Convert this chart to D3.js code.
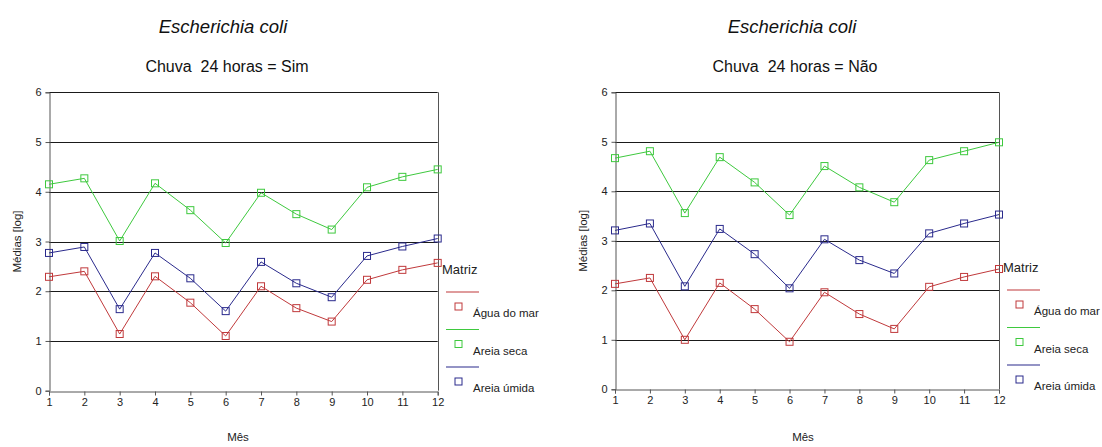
<!DOCTYPE html>
<html><head><meta charset="utf-8">
<script src="https://cdn.jsdelivr.net/npm/d3@7"></script>
<style>body{margin:0;background:#fff}svg{display:block}text{font-family:"Liberation Sans",Arial,sans-serif;white-space:pre}</style>
</head><body><svg id="c" width="1102" height="447"></svg>
<script>
const months = [1,2,3,4,5,6,7,8,9,10,11,12];
const yTicks = [0,1,2,3,4,5,6];
const seriesNames = ["Água do mar","Areia seca","Areia úmida"];
const seriesColors = ["#c0393b","#3ec93e","#2a2a8c"];
const panelTitles = ["Chuva  24 horas = Sim","Chuva  24 horas = Não"];
// Left panel (Sim)
const simAgua  = [2.29,2.40,1.14,2.30,1.77,1.10,2.10,1.66,1.39,2.23,2.43,2.57];
const simSeca  = [4.15,4.27,3.01,4.17,3.63,2.97,3.98,3.55,3.24,4.09,4.30,4.45];
const simUmida = [2.77,2.89,1.64,2.77,2.26,1.60,2.59,2.16,1.88,2.71,2.90,3.06];
// Right panel (Não)
const naoAgua  = [2.13,2.25,1.00,2.15,1.62,0.96,1.96,1.52,1.22,2.07,2.27,2.43];
const naoSeca  = [4.67,4.81,3.56,4.69,4.18,3.52,4.51,4.08,3.78,4.63,4.81,4.99];
const naoUmida = [3.21,3.35,2.08,3.24,2.73,2.04,3.03,2.61,2.34,3.15,3.35,3.53];

const svg = d3.select("#c");

function panel(cfg, data, title){
  const g = svg.append("g");
  const x = d3.scaleLinear().domain([1,12]).range([cfg.x0, cfg.x1]);
  const y = d3.scaleLinear().domain([0,6]).range([cfg.y0, cfg.y6]);
  // titles
  g.append("text").attr("x", cfg.tx).attr("y", 33).attr("text-anchor","middle")
    .attr("font-size",18.5).attr("font-style","italic").attr("fill","#111").text("Escherichia coli");
  g.append("text").attr("x", cfg.tx2).attr("y", 72).attr("text-anchor","middle")
    .attr("font-size",16).attr("fill","#111").text(title);
  // grid
  g.selectAll(".grid").data(yTicks.filter(d=>d>0)).join("line")
    .attr("x1", cfg.x0).attr("x2", cfg.x1)
    .attr("y1", d=>Math.round(y(d))+0.5).attr("y2", d=>Math.round(y(d))+0.5)
    .attr("stroke", "#1a1a1a").attr("stroke-width",1.2);
  // right border
  g.append("line").attr("x1", Math.round(cfg.x1)+0.5).attr("x2", Math.round(cfg.x1)+0.5)
    .attr("y1", y(6)).attr("y2", y(0)).attr("stroke","#555");
  // axes
  const ya = g.append("g").attr("transform",`translate(${Math.round(cfg.x0)+0.5},0)`)
    .call(d3.axisLeft(y).tickValues(yTicks).tickFormat(d3.format("d")).tickSize(4).tickPadding(4));
  ya.select(".domain").attr("stroke","#555");
  ya.selectAll(".tick line").attr("stroke","#555");
  ya.selectAll("text").attr("font-size",11).attr("fill","#222").attr("font-family","Liberation Sans, Arial, sans-serif");
  const xa = g.append("g").attr("transform",`translate(0,${Math.round(cfg.y0)+0.5})`)
    .call(d3.axisBottom(x).tickValues(months).tickFormat(d3.format("d")).tickSize(4).tickPadding(3));
  xa.select(".domain").attr("stroke","#555");
  xa.selectAll(".tick line").attr("stroke","#555");
  xa.selectAll("text").attr("font-size",11).attr("fill","#222").attr("font-family","Liberation Sans, Arial, sans-serif");
  // axis titles
  g.append("text").attr("transform",`translate(${cfg.ylx},${(cfg.y0+cfg.y6)/2}) rotate(-90)`)
    .attr("text-anchor","middle").attr("dy","0.35em").attr("font-size",11.5).attr("fill","#222").text("Médias [log]");
  g.append("text").attr("x", cfg.mx).attr("y", 441).attr("text-anchor","middle")
    .attr("font-size",11.5).attr("fill","#222").text("Mês");
  // series
  const line = d3.line().x((d,i)=>x(months[i])).y(d=>y(d));
  data.forEach((vals,si)=>{
    g.append("path").datum(vals).attr("d",line).attr("fill","none")
      .attr("stroke",seriesColors[si]).attr("stroke-width",1);
    g.selectAll(null).data(vals).join("rect")
      .attr("x",(d,i)=>x(months[i])-3.5).attr("y",d=>y(d)-3.5)
      .attr("width",7).attr("height",7).attr("fill","none")
      .attr("stroke",seriesColors[si]).attr("stroke-width",1);
  });
  // legend
  const L = cfg.leg;
  g.append("text").attr("x", L.x).attr("y", L.y).attr("font-size",13).attr("fill","#222").text("Matriz");
  seriesNames.forEach((nm,si)=>{
    const yy = L.y + 18 + si*37.5;
    g.append("line").attr("x1",L.x+4).attr("x2",L.x+37).attr("y1",yy).attr("y2",yy)
      .attr("stroke",seriesColors[si]).attr("stroke-width",1.2);
    g.append("rect").attr("x",L.x+13).attr("y",yy+11).attr("width",7).attr("height",7)
      .attr("fill","none").attr("stroke",seriesColors[si]);
    g.append("text").attr("x",L.x+31).attr("y",yy+25).attr("font-size",11.5).attr("fill","#222").text(nm);
  });
}

panel({x0:49,x1:437.7,y0:390.7,y6:92.3,tx:223,tx2:227,ylx:17,mx:238,
       leg:{x:442,y:274}}, [simAgua,simSeca,simUmida], panelTitles[0]);
panel({x0:615,x1:999,y0:389.3,y6:92.3,tx:792,tx2:795,ylx:583,mx:803,
       leg:{x:1003,y:272}}, [naoAgua,naoSeca,naoUmida], panelTitles[1]);
</script></body></html>
